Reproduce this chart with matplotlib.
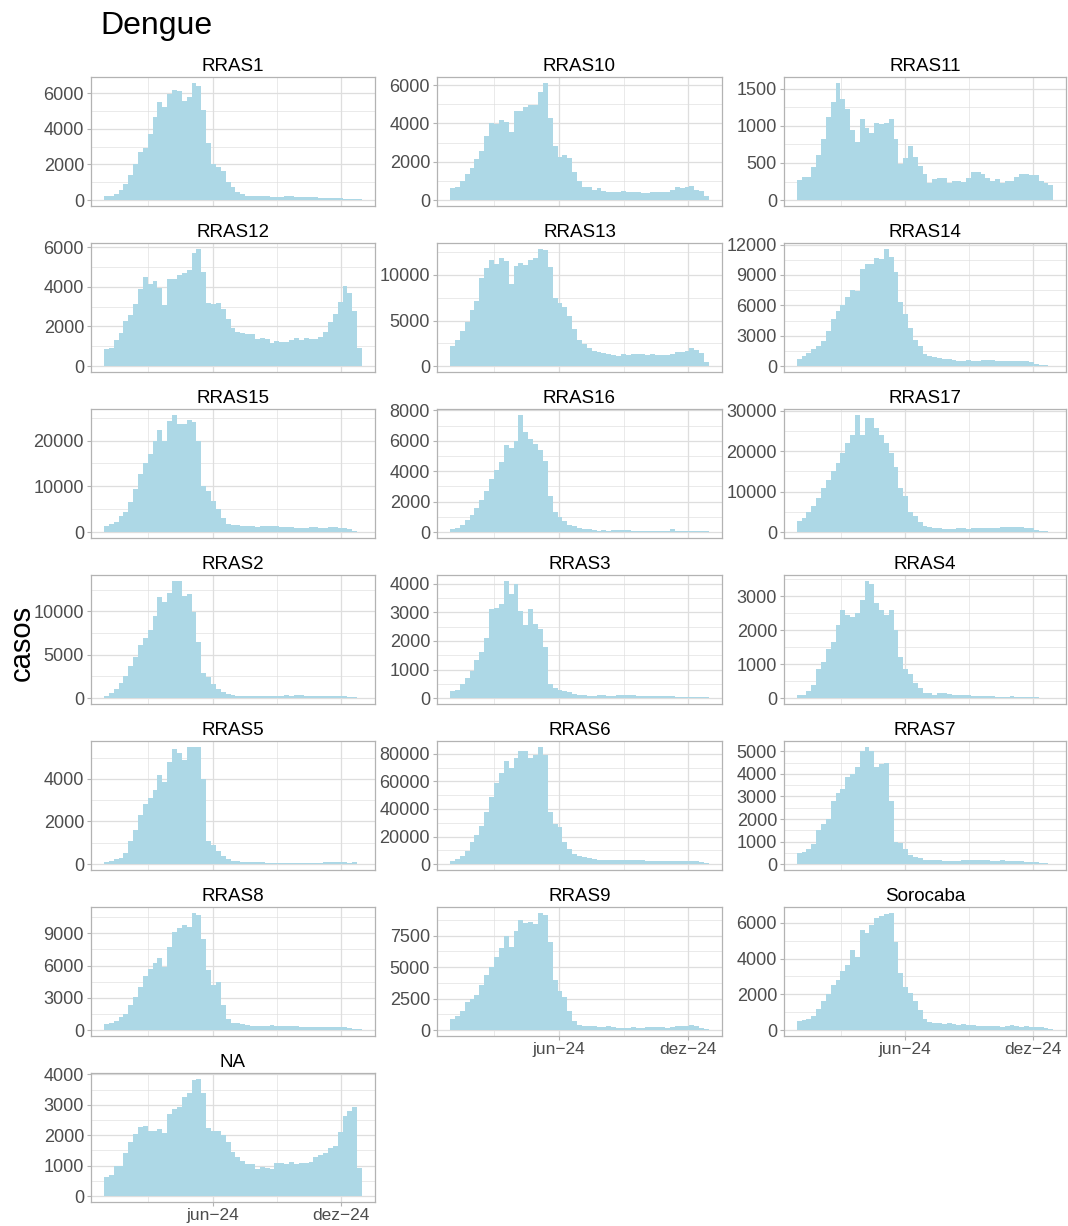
import numpy as np
import matplotlib
matplotlib.use('Agg')
import matplotlib.pyplot as plt
import matplotlib.dates as mdates
from matplotlib.ticker import MultipleLocator, FixedLocator, FuncFormatter

plt.rcParams['font.family'] = ['Liberation Sans', 'DejaVu Sans']

# weekly dengue case counts per region (53 bins, end of Dec 2023 -> end of Dec 2024)
rras1 = [205, 260, 370, 560, 930, 1430, 2000, 2720, 2940, 3730,
         4680, 5510, 5230, 5960, 6190, 6130, 5570, 5790, 6580, 6410,
         5070, 3220, 2050, 1880, 1660, 1040, 710, 430, 320, 260,
         260, 250, 240, 210, 200, 150, 200, 210, 210, 200,
         200, 160, 150, 150, 140, 100, 100, 95, 95, 90,
         90, 60, 40]
rras10 = [610, 710, 1020, 1340, 1700, 2170, 2580, 3360, 4040, 3950,
          4200, 4090, 3570, 4660, 4660, 4870, 4990, 4990, 5650, 6120,
          4300, 2840, 2270, 2380, 2220, 1490, 990, 710, 660, 555,
          610, 500, 450, 450, 400, 500, 450, 400, 400, 350,
          350, 450, 400, 400, 400, 555, 710, 610, 710, 760,
          555, 500, 190]
rras11 = [277, 317, 317, 451, 612, 826, 1120, 1321, 1576, 1362,
          1228, 946, 786, 1094, 973, 906, 1040, 1027, 1040, 1094,
          826, 482, 571, 732, 585, 464, 357, 228, 290, 304,
          304, 237, 263, 263, 250, 304, 384, 384, 357, 304,
          263, 290, 237, 263, 263, 317, 357, 357, 344, 344,
          263, 237, 210]
rras12 = [874, 924, 1328, 1680, 2286, 2588, 3143, 3899, 4504, 4151,
          4303, 3950, 3092, 4403, 4403, 4605, 4706, 4857, 5714, 5916,
          4756, 3193, 3143, 3193, 2891, 2387, 1933, 1731, 1680, 1630,
          1630, 1378, 1429, 1378, 1176, 1277, 1227, 1227, 1328, 1429,
          1328, 1429, 1378, 1378, 1479, 1731, 2235, 2639, 3244, 4050,
          3697, 2790, 924]
rras13 = [2260, 2880, 3870, 4850, 6170, 7150, 9670, 10770, 11640, 11200,
          11860, 11530, 9010, 10990, 11310, 11090, 11640, 11860, 12850, 12740,
          10880, 7480, 6930, 6500, 5510, 4120, 2880, 2450, 2010, 1680,
          1570, 1460, 1350, 1240, 1130, 1350, 1240, 1350, 1350, 1350,
          1240, 1350, 1240, 1240, 1240, 1350, 1570, 1570, 1680, 2010,
          1790, 1460, 470]
rras14 = [660, 990, 1300, 1650, 1970, 2530, 3450, 4670, 5430, 6000,
          6840, 7500, 7430, 9600, 10100, 10100, 10660, 10620, 11580, 10760,
          9340, 6320, 5100, 3720, 2630, 1970, 1220, 990, 920, 760,
          660, 660, 590, 530, 530, 560, 500, 500, 560, 560,
          560, 530, 470, 470, 500, 500, 500, 470, 400, 260,
          130, 70, 30]
rras15 = [1300, 1700, 2300, 3500, 4500, 6600, 9500, 12800, 15000, 17000,
          20000, 22300, 20000, 24200, 25600, 23500, 23500, 24500, 24000, 20000,
          10000, 9000, 6800, 5000, 3000, 1800, 1600, 1500, 1400, 1300,
          1300, 1100, 1300, 1300, 1300, 1300, 1100, 1100, 1100, 1000,
          1000, 1000, 1100, 1100, 1000, 1000, 1100, 1100, 1000, 800,
          600, 300, 100]
rras16 = [200, 300, 500, 800, 1100, 1600, 2100, 2700, 3500, 4100,
          4600, 5700, 5500, 6000, 7700, 6600, 6100, 5800, 5400, 4700,
          2400, 1300, 1000, 700, 500, 400, 300, 200, 200, 150,
          100, 150, 100, 150, 150, 150, 150, 100, 100, 100,
          100, 100, 100, 100, 100, 200, 100, 100, 100, 50,
          50, 50, 50]
rras17 = [2800, 3500, 5000, 6500, 8500, 11000, 13000, 15000, 17000, 19500,
          22000, 24000, 29000, 24000, 28200, 28200, 25800, 24000, 22000, 19500,
          16000, 11000, 9000, 5000, 4000, 2500, 1600, 1200, 1000, 1000,
          800, 800, 800, 1000, 1000, 800, 1000, 1100, 1100, 1000,
          1100, 1100, 1200, 1200, 1200, 1200, 1200, 1000, 900, 600,
          400, 200, 100]
rras2 = [300, 600, 1000, 1700, 2600, 3700, 4700, 6100, 6900, 7800,
         9500, 11600, 11100, 12100, 13500, 13500, 11800, 12000, 9900, 6500,
         2900, 2400, 1600, 1000, 700, 500, 400, 300, 300, 300,
         300, 300, 300, 300, 300, 300, 300, 400, 300, 400,
         400, 300, 300, 300, 300, 300, 200, 300, 200, 200,
         150, 100, 50]
rras3 = [250, 280, 500, 700, 950, 1350, 1600, 2100, 3100, 3150,
         3300, 4100, 3650, 4000, 3050, 2550, 3100, 2600, 2400, 1800,
         500, 350, 300, 250, 200, 150, 100, 100, 80, 80,
         100, 100, 80, 80, 100, 100, 100, 100, 90, 80,
         80, 80, 80, 80, 80, 80, 50, 50, 50, 50,
         50, 50, 50]
rras4 = [80, 80, 200, 400, 850, 1050, 1450, 1650, 2150, 2600,
         2450, 2400, 2500, 2900, 3450, 3350, 2800, 2600, 2450, 2600,
         2000, 1200, 850, 700, 450, 300, 150, 150, 100, 150,
         150, 120, 100, 80, 100, 80, 60, 60, 50, 50,
         50, 30, 30, 30, 50, 30, 30, 20, 20, 20,
         10, 10, 5]
rras5 = [100, 150, 250, 300, 500, 1100, 1600, 2300, 2800, 3100,
         3500, 4200, 3850, 4800, 5400, 5200, 4900, 5500, 5500, 5500,
         4000, 1100, 900, 600, 400, 250, 150, 150, 100, 100,
         100, 100, 100, 60, 60, 60, 60, 60, 60, 60,
         60, 60, 60, 60, 60, 80, 80, 80, 80, 80,
         40, 80, 20]
rras6 = [2500, 4000, 6000, 9500, 16000, 21000, 28000, 38000, 49000, 59000,
         66000, 75000, 70000, 77000, 82000, 82000, 77000, 79000, 85000, 79000,
         38000, 29000, 27000, 16000, 11000, 7000, 6000, 5000, 4500, 3500,
         3000, 3000, 3000, 3000, 3000, 3000, 3000, 3000, 3000, 3000,
         2500, 2500, 2500, 2500, 2500, 2500, 2500, 2500, 2500, 2500,
         2000, 1500, 500]
rras7 = [500, 550, 650, 900, 1500, 1800, 2000, 2800, 3150, 3350,
         3850, 4000, 4300, 5000, 5200, 5000, 4300, 4450, 4500, 2800,
         1000, 950, 650, 400, 300, 250, 200, 200, 200, 200,
         150, 150, 150, 150, 200, 200, 200, 200, 200, 200,
         150, 150, 200, 150, 150, 150, 150, 100, 100, 80,
         50, 30, 10]
rras8 = [600, 650, 850, 1200, 1500, 2300, 3100, 4000, 5000, 5700,
         6200, 6700, 5900, 7700, 9100, 9500, 9800, 9600, 10900, 10700,
         8500, 5600, 4200, 4500, 2300, 1000, 700, 650, 600, 500,
         400, 350, 400, 400, 450, 400, 350, 350, 350, 350,
         300, 300, 300, 300, 300, 300, 300, 300, 250, 250,
         200, 150, 100]
rras9 = [850, 1100, 1500, 2200, 2500, 2800, 3600, 4400, 5000, 5800,
         6500, 7500, 6600, 7900, 8700, 8500, 8600, 8400, 9300, 9100,
         7000, 4000, 3100, 2600, 1500, 700, 400, 300, 300, 300,
         250, 250, 300, 250, 200, 200, 200, 250, 200, 200,
         250, 250, 250, 250, 200, 250, 300, 300, 350, 400,
         300, 200, 100]
sorocaba = [500, 550, 600, 800, 1200, 1600, 2000, 2500, 2800, 3300,
            3650, 4450, 4100, 5600, 5400, 5900, 6250, 6400, 6500, 6550,
            4900, 3200, 2400, 2100, 1600, 1100, 600, 450, 400, 400,
            350, 400, 350, 300, 350, 300, 300, 250, 250, 250,
            250, 250, 200, 250, 300, 250, 200, 250, 200, 200,
            150, 100, 50]
na_region = [620, 710, 980, 980, 1400, 1790, 2040, 2270, 2310, 2150,
             2150, 2210, 2080, 2700, 2870, 2930, 3260, 3390, 3810, 3850,
             3390, 2250, 2150, 2150, 2020, 1790, 1460, 1280, 1140, 1040,
             1070, 900, 950, 920, 880, 1100, 1100, 1070, 1130, 1070,
             1100, 1100, 1130, 1280, 1340, 1400, 1570, 1660, 2110, 2640,
             2800, 2930, 940]

panel_names = ['RRAS1', 'RRAS10', 'RRAS11', 'RRAS12', 'RRAS13', 'RRAS14',
               'RRAS15', 'RRAS16', 'RRAS17', 'RRAS2', 'RRAS3', 'RRAS4',
               'RRAS5', 'RRAS6', 'RRAS7', 'RRAS8', 'RRAS9', 'Sorocaba', 'NA']
panel_values = [rras1, rras10, rras11, rras12, rras13, rras14,
                rras15, rras16, rras17, rras2, rras3, rras4,
                rras5, rras6, rras7, rras8, rras9, sorocaba, na_region]

# y break spacing per facet (free y scales)
y_steps = {'RRAS1': 2000, 'RRAS10': 2000, 'RRAS11': 500, 'RRAS12': 2000,
           'RRAS13': 5000, 'RRAS14': 3000, 'RRAS15': 10000, 'RRAS16': 2000,
           'RRAS17': 10000, 'RRAS2': 5000, 'RRAS3': 1000, 'RRAS4': 1000,
           'RRAS5': 2000, 'RRAS6': 20000, 'RRAS7': 1000, 'RRAS8': 3000,
           'RRAS9': 2500, 'Sorocaba': 2000, 'NA': 1000}

bin_start = np.datetime64('2023-12-29T12:00')
bin_days = 6.925

x_major = [np.datetime64('2024-06-01'), np.datetime64('2024-12-01')]
x_minor = [np.datetime64('2024-03-01T12:00'), np.datetime64('2024-08-31T12:00')]
x_labels = ['jun\u221224', 'dez\u221224']

BAR = '#ADD8E6'
GRID = '#DEDEDE'
BORDER = '#B3B3B3'
TICK_TXT = '#4D4D4D'

W, H = 1068, 1226
col_left = [91, 437, 784]
col_right = [375, 722, 1066]
row_top0, row_pitch, panel_h = 77, 166, 129

fig = plt.figure(figsize=(W / 100, H / 100), dpi=100)

x0 = mdates.date2num(bin_start)
n_bins = len(rras1)
lefts = x0 + np.arange(n_bins) * bin_days
span = n_bins * bin_days
xlim = (x0 - 0.05 * span, x0 + 1.05 * span)

for i, (name, vals) in enumerate(zip(panel_names, panel_values)):
    r, c = divmod(i, 3)
    left, right = col_left[c], col_right[c]
    top = row_top0 + r * row_pitch
    ax = fig.add_axes([left / W, 1 - (top + panel_h) / H,
                       (right - left) / W, panel_h / H])
    ax.bar(lefts, vals, width=bin_days, align='edge', color=BAR,
           linewidth=0, zorder=2)
    ax.set_xlim(*xlim)
    ymax = max(vals)
    ax.set_ylim(-0.05 * ymax, 1.05 * ymax)

    step = y_steps[name]
    ax.yaxis.set_major_locator(MultipleLocator(step))
    ax.yaxis.set_minor_locator(MultipleLocator(step / 2))
    ax.yaxis.set_major_formatter(FuncFormatter(lambda v, p: f'{v:.0f}'))
    ax.xaxis.set_major_locator(FixedLocator(mdates.date2num(x_major)))
    ax.xaxis.set_minor_locator(FixedLocator(mdates.date2num(x_minor)))

    ax.set_axisbelow(True)
    ax.grid(which='major', color=GRID, linewidth=0.9, zorder=0)
    ax.grid(which='minor', color=GRID, linewidth=0.45, zorder=0)
    for sp in ax.spines.values():
        sp.set_color(BORDER)
        sp.set_linewidth(0.9)

    ax.tick_params(axis='y', which='major', length=3, width=0.8, color=BORDER,
                   labelsize=13, labelcolor=TICK_TXT, pad=2)
    ax.tick_params(which='minor', length=0)

    # x axis only drawn under the last panel of each column
    last_in_col = (i + 3 >= len(panel_names))
    if last_in_col:
        ax.set_xticklabels(x_labels)
        ax.tick_params(axis='x', which='major', length=3, width=0.8,
                       color=BORDER, labelsize=12.5, labelcolor=TICK_TXT, pad=1)
    else:
        ax.tick_params(axis='x', which='major', length=0, labelbottom=False)

    ax.set_title(name, fontsize=13.5, color='black', pad=4)

fig.text(100 / W, 1 - 26 / H, 'Dengue', fontsize=23, va='center', ha='left')
fig.text(22 / W, 1 - 643 / H, 'casos', fontsize=21, rotation=90,
         va='center', ha='center')

fig.savefig('out.png', dpi=100)
